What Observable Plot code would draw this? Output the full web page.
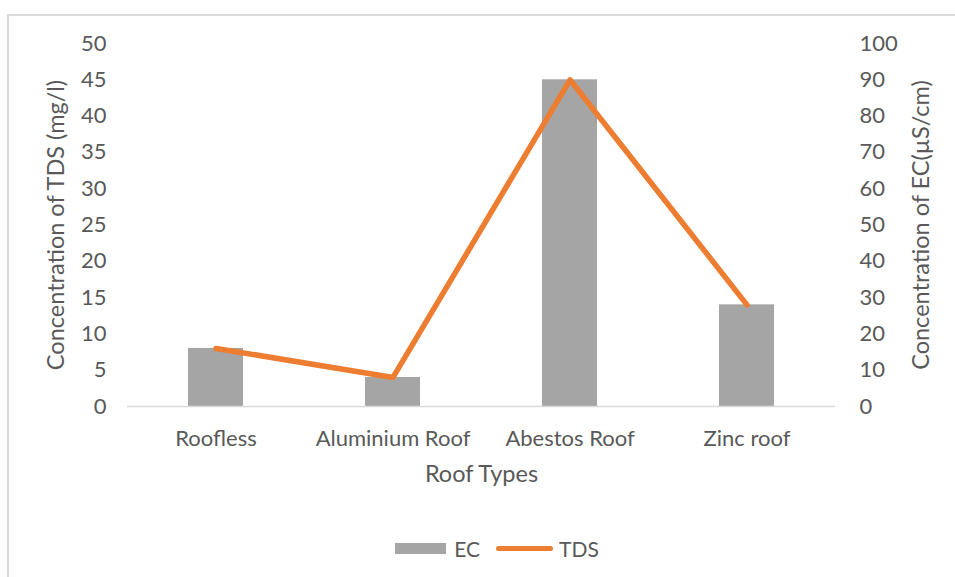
<!DOCTYPE html>
<html>
<head>
<meta charset="utf-8">
<script src="https://cdn.jsdelivr.net/npm/d3@7"></script>
<script src="https://cdn.jsdelivr.net/npm/@observablehq/plot@0.6"></script>
<style>
  html, body { margin: 0; padding: 0; background: #fff; overflow: hidden; }
  #frame {
    position: absolute; left: 7px; top: 14px;
    width: 960px; height: 580px;
    border: 2px solid #d9d9d9; box-sizing: border-box;
    font-family: Lato, "Open Sans", sans-serif; color: #595959;
  }
  #legend {
    position: absolute; top: 520px; left: 0; width: 946px;
    display: flex; justify-content: center; align-items: center;
    font-size: 21px; padding-left: 30px; box-sizing: border-box;
  }
  .item { display: flex; align-items: center; margin: 0 8px; }
  .swatch-bar { width: 51px; height: 11px; background: #a5a5a5; margin-right: 8px; }
  .swatch-line { width: 57px; height: 5px; border-radius: 3px; background: #ed7d31; margin-right: 6px; }
</style>
</head>
<body>
<div id="frame">
  <div id="chart"></div>
  <div id="legend">
    <div class="item"><div class="swatch-bar"></div><span>EC</span></div>
    <div class="item"><div class="swatch-line"></div><span>TDS</span></div>
  </div>
</div>
<script>
// Roof types and the measured water quality for each
const categories = ["Roofless", "Aluminium Roof", "Abestos Roof", "Zinc roof"];
const ecValues = [16, 8, 90, 28];   // EC, µS/cm (right axis)
const tdsValues = [8, 4, 45, 14];   // TDS, mg/l (left axis)

// Axis tick values
const tdsTicks = [0, 5, 10, 15, 20, 25, 30, 35, 40, 45, 50];
const ecTicks = [0, 10, 20, 30, 40, 50, 60, 70, 80, 90, 100];

// Axis titles
const xTitle = "Roof Types";
const leftTitle = "Concentration of TDS (mg/l)";
const rightTitle = "Concentration of EC(µS/cm)";

// EC shares the TDS y scale, rescaled by the ratio of the axis maxima
const ratio = ecTicks[ecTicks.length - 1] / tdsTicks[tdsTicks.length - 1];

const rows = categories.map((cat, i) => ({cat, ec: ecValues[i], tds: tdsValues[i]}));

const titleStyle = {fill: "#595959", fontSize: 23.5, textAnchor: "middle", lineAnchor: "middle"};

const chart = Plot.plot({
  width: 946,
  height: 480,
  marginLeft: 118,
  marginRight: 120,
  marginTop: 27,
  marginBottom: 90,
  style: {fontFamily: "Lato, 'Open Sans', sans-serif", fontSize: "22px", color: "#595959", background: "transparent"},
  x: {domain: categories, paddingInner: 0.69, paddingOuter: 0.345},
  y: {domain: [0, tdsTicks[tdsTicks.length - 1]]},
  marks: [
    Plot.barY(rows, {x: "cat", y: d => d.ec / ratio, fill: "#a5a5a5"}),
    Plot.ruleY([0], {stroke: "#d9d9d9", strokeWidth: 1.5}),
    Plot.lineY(rows, {x: "cat", y: "tds", stroke: "#ed7d31", strokeWidth: 5.5, strokeLinejoin: "round", strokeLinecap: "round"}),
    Plot.axisX({tickSize: 0, tickPadding: 24, label: null, fontSize: "22px"}),
    Plot.axisY(tdsTicks, {anchor: "left", tickSize: 0, tickPadding: 21, label: null, fontSize: "22px"}),
    Plot.axisY(ecTicks.map(v => v / ratio), {anchor: "right", tickSize: 0, tickPadding: 24, tickFormat: d => d * ratio, label: null, fontSize: "22px"}),
    Plot.text([xTitle], {frameAnchor: "bottom", dy: 68, ...titleStyle}),
    Plot.text([leftTitle], {frameAnchor: "left", dx: -71, rotate: -90, ...titleStyle}),
    Plot.text([rightTitle], {frameAnchor: "right", dx: 86, rotate: -90, ...titleStyle})
  ]
});

document.getElementById("chart").appendChild(chart);
</script>
</body>
</html>
